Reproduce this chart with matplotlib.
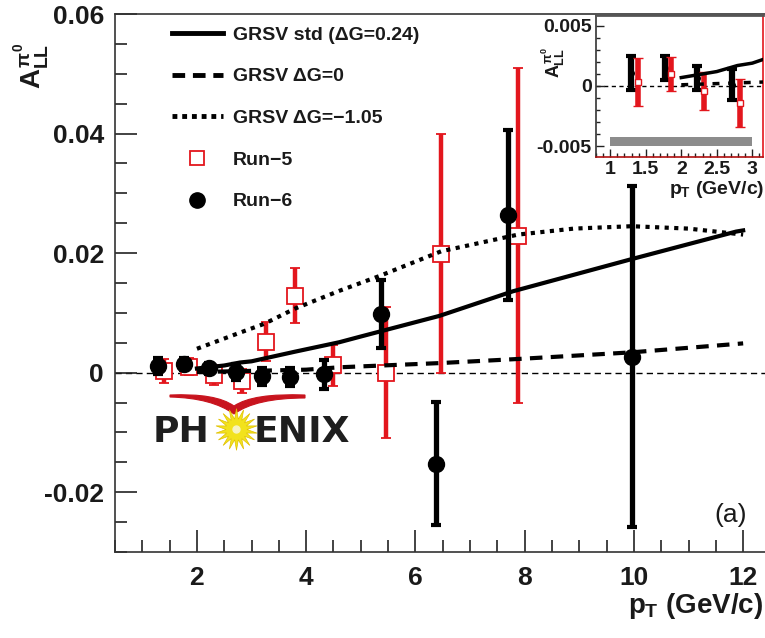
import numpy as np
import matplotlib
matplotlib.use("Agg")
import matplotlib.pyplot as plt
from matplotlib.lines import Line2D
from matplotlib.path import Path
from matplotlib.patches import PathPatch
from matplotlib.ticker import FixedLocator, MultipleLocator, FixedFormatter

plt.rcParams['font.family'] = ['Liberation Sans', 'DejaVu Sans']
plt.rcParams['font.weight'] = 'bold'
plt.rcParams['mathtext.fontset'] = 'custom'
plt.rcParams['mathtext.rm'] = 'Liberation Sans:bold'
plt.rcParams['mathtext.it'] = 'Liberation Sans:bold'
plt.rcParams['mathtext.bf'] = 'Liberation Sans:bold'
plt.rcParams['mathtext.sf'] = 'Liberation Sans:bold'

# ---------------- data ----------------
run6_pt = [1.29, 1.77, 2.22, 2.72, 3.20, 3.70, 4.33, 5.37, 6.37, 7.69, 9.97]
run6_all = [0.0011, 0.0015, 0.0007, 0.0001, -0.0006, -0.0007, -0.0003, 0.0098, -0.0152, 0.0264, 0.0027]
run6_err = [0.0014, 0.0010, 0.0010, 0.0013, 0.0014, 0.0015, 0.0025, 0.0057, 0.0103, 0.0142, 0.0286]

run5_pt = [1.39, 1.86, 2.32, 2.83, 3.26, 3.79, 4.50, 5.46, 6.47, 7.88]
run5_all = [0.0003, 0.0010, -0.0004, -0.0014, 0.0052, 0.0129, 0.0012, 0.0000, 0.0199, 0.0229]
run5_err = [0.0020, 0.0014, 0.0016, 0.0020, 0.0032, 0.0046, 0.0035, 0.0110, 0.0200, 0.0280]

std_pt = [2.0, 2.5, 2.79, 3.0, 3.79, 4.61, 4.98, 6.44, 7.78, 9.96, 11.87, 12.0]
std_all = [0.0007, 0.0012, 0.0017, 0.0019, 0.0035, 0.0051, 0.0060, 0.0095, 0.0136, 0.0190, 0.0236, 0.0238]

zero_pt = [2.0, 3.0, 4.0, 4.61, 6.44, 7.9, 9.96, 11.87, 12.0]
zero_all = [0.0001, 0.0003, 0.0005, 0.0009, 0.0016, 0.0023, 0.0034, 0.0048, 0.0049]

neg_pt = [2.0, 2.79, 3.24, 3.79, 4.61, 5.35, 6.47, 7.88, 8.9, 9.96, 11.0, 12.0]
neg_all = [0.0040, 0.0067, 0.0082, 0.0107, 0.0137, 0.0162, 0.0203, 0.0231, 0.0241, 0.0245, 0.0241, 0.0231]

syst_pt = [1.0, 3.0]
syst_lo = -0.0050
syst_hi = -0.0042

labels = ["GRSV std (\u0394G=0.24)", "GRSV \u0394G=0", "GRSV \u0394G=\u22121.05", "Run\u22125", "Run\u22126"]

x_ticks = [2, 4, 6, 8, 10, 12]
x_ticklabels = ["2", "4", "6", "8", "10", "12"]
y_ticks = [-0.02, 0.0, 0.02, 0.04, 0.06]
y_ticklabels = ["-0.02", "0", "0.02", "0.04", "0.06"]
in_x_ticks = [1, 1.5, 2, 2.5, 3]
in_x_ticklabels = ["1", "1.5", "2", "2.5", "3"]
in_y_ticks = [-0.005, 0.0, 0.005]
in_y_ticklabels = ["-0.005", "0", "0.005"]

RED = '#e3161d'
W, H = 765, 638


def fx(px):
    return px / W


def fy(py):
    return 1 - py / H


fig = plt.figure(figsize=(7.65, 6.38), dpi=100)

# ---------------- main axes ----------------
ax = fig.add_axes([fx(115), fy(552), fx(765) - fx(115), fy(14) - fy(552)])
ax.set_xlim(0.5, 12.4)
ax.set_ylim(-0.03, 0.06)

ax.axhline(0, color='black', lw=1.0, ls=(0, (4.5, 3)), zorder=1)

ax.errorbar(run5_pt, run5_all, yerr=run5_err, fmt='s', ms=11, mfc='white', mec=RED,
            mew=1.3, ecolor=RED, elinewidth=3.2, capsize=3.5, capthick=3, zorder=3)
ax.errorbar(run6_pt, run6_all, yerr=run6_err, fmt='o', ms=11.5, color='black',
            elinewidth=3.8, capsize=3.5, capthick=3, zorder=4)

ax.plot(std_pt, std_all, color='black', lw=3, zorder=5)
ax.plot(zero_pt, zero_all, color='black', lw=3, ls=(0, (3, 2)), zorder=5)
ax.plot(neg_pt, neg_all, color='black', lw=3, ls=(0, (1, 1.3)), zorder=5)

ax.xaxis.set_major_locator(FixedLocator(x_ticks))
ax.xaxis.set_major_formatter(FixedFormatter(x_ticklabels))
ax.xaxis.set_minor_locator(MultipleLocator(0.5))
ax.yaxis.set_major_locator(FixedLocator(y_ticks))
ax.yaxis.set_major_formatter(FixedFormatter(y_ticklabels))
ax.yaxis.set_minor_locator(MultipleLocator(0.005))
ax.tick_params(which='both', direction='in', width=1.2, colors='#222222')
ax.tick_params(which='major', length=16)
ax.tick_params(which='minor', length=8.5)
ax.tick_params(axis='x', which='major', pad=10, labelsize=19)
ax.tick_params(axis='y', which='major', pad=8, labelsize=19)
for lab in ax.get_xticklabels() + ax.get_yticklabels():
    lab.set_fontweight('bold')
    lab.set_color('#1a1a1a')
ax.spines['right'].set_visible(False)
for s in ['left', 'bottom', 'top']:
    ax.spines[s].set_linewidth(1.2)
    ax.spines[s].set_color('#333333')

handles = [
    Line2D([], [], color='black', lw=3.5),
    Line2D([], [], color='black', lw=3.5, ls=(0, (2.6, 1.6))),
    Line2D([], [], color='black', lw=3.5, ls=(0, (1, 1))),
    Line2D([], [], ls='none', marker='s', ms=10, mfc='white', mec=RED, mew=1.3),
    Line2D([], [], ls='none', marker='o', ms=11, color='black'),
]
leg = ax.legend(handles, labels, loc='upper left', bbox_to_anchor=(fx(172), fy(26)),
                bbox_transform=fig.transFigure, frameon=False,
                handlelength=2.6, handletextpad=0.55, labelspacing=1.24,
                borderpad=0, borderaxespad=0, prop={'weight': 'bold', 'size': 14})
for t in leg.get_texts():
    t.set_color('#1a1a1a')

# axis titles
fig.text(fx(763), fy(606), r"$p_T$ (GeV/c)", ha='right', va='center', fontsize=20,
         fontweight='bold', color='#1a1a1a')
fig.text(fx(32), fy(66), r"$A_{LL}^{\pi^0}$", rotation=90, ha='center', va='center',
         fontsize=20, color='#1a1a1a')
fig.text(fx(731), fy(515), "(a)", ha='center', va='center', fontsize=19,
         fontweight='normal', color='#1a1a1a')

# ---------------- PHENIX logo (decoration) ----------------
logo_font = dict(family='DejaVu Sans', fontsize=26, fontweight='bold', color='#1e1e1e')
fig.text(fx(153), fy(442), "PH", ha='left', va='baseline', **logo_font)
fig.text(fx(254), fy(442), "ENIX", ha='left', va='baseline', **logo_font)
star = Line2D([fx(236)], [fy(429)], marker=(18, 1, 0), markersize=30,
              color='#f2e21c', mec='#e0c000', mew=0.5, transform=fig.transFigure)
fig.add_artist(star)
dot = Line2D([fx(236)], [fy(429)], marker='o', markersize=5, color='#f7f3c0',
             transform=fig.transFigure)
fig.add_artist(dot)
verts = [(fx(170), fy(395)), (fx(216), fy(393)), (fx(234), fy(406)),
         (fx(253), fy(393)), (fx(305), fy(395)),
         (fx(305), fy(398)),
         (fx(256), fy(398)), (fx(234), fy(414)),
         (fx(212), fy(398)), (fx(170), fy(397)),
         (fx(170), fy(395))]
codes = [Path.MOVETO, Path.CURVE3, Path.CURVE3, Path.CURVE3, Path.CURVE3,
         Path.LINETO, Path.CURVE3, Path.CURVE3, Path.CURVE3, Path.CURVE3,
         Path.CLOSEPOLY]
swoop = PathPatch(Path(verts, codes), facecolor='#c8141e', edgecolor='#c8141e', lw=0.8,
                  transform=fig.transFigure)
fig.add_artist(swoop)

# ---------------- inset ----------------
axi = fig.add_axes([fx(596), fy(157), fx(763) - fx(596), fy(15) - fy(157)])
axi.set_xlim(0.8, 3.15)
axi.set_ylim(-0.0059, 0.0059)
axi.axhline(0, color='black', lw=1.0, ls=(0, (3, 2.5)), zorder=1)
axi.fill_between(syst_pt, syst_lo, syst_hi, color='#8c8c8c', lw=0, zorder=2)
n_in = 4
axi.errorbar(run6_pt[:n_in], run6_all[:n_in], yerr=run6_err[:n_in], fmt='o', ms=4,
             color='black', elinewidth=4.5, capsize=3.5, capthick=3, zorder=3)
axi.errorbar(run5_pt[:n_in], run5_all[:n_in], yerr=run5_err[:n_in], fmt='s', ms=5,
             mfc='white', mec=RED, mew=1.0, ecolor=RED, elinewidth=4, capsize=3.5,
             capthick=3, zorder=4)
axi.plot(std_pt, std_all, color='black', lw=2.5, zorder=5)
axi.plot(zero_pt, zero_all, color='black', lw=2.5, ls=(0, (2, 2.5)), zorder=5)

axi.xaxis.set_major_locator(FixedLocator(in_x_ticks))
axi.xaxis.set_major_formatter(FixedFormatter(in_x_ticklabels))
axi.xaxis.set_minor_locator(MultipleLocator(0.1))
axi.yaxis.set_major_locator(FixedLocator(in_y_ticks))
axi.yaxis.set_major_formatter(FixedFormatter(in_y_ticklabels))
axi.yaxis.set_minor_locator(MultipleLocator(0.001))
axi.tick_params(which='both', direction='in', width=1.0, colors='#222222', labelsize=14)
axi.tick_params(which='major', length=6, pad=3)
axi.tick_params(which='minor', length=3)
for lab in axi.get_xticklabels() + axi.get_yticklabels():
    lab.set_fontweight('bold')
    lab.set_color('#1a1a1a')
axi.spines['top'].set_color('#555555')
axi.spines['top'].set_linewidth(2.0)
axi.spines['left'].set_color('#333333')
axi.spines['right'].set_color(RED)
axi.spines['bottom'].set_color('#b01010')
for s in ['left', 'right', 'bottom']:
    axi.spines[s].set_linewidth(1.2)
fig.text(fx(764), fy(190), r"$p_T$ (GeV/c)", ha='right', va='center', fontsize=14,
         fontweight='bold', color='#1a1a1a')
fig.text(fx(553), fy(62), r"$A_{LL}^{\pi^0}$", rotation=90, ha='center', va='center',
         fontsize=13, color='#1a1a1a')

fig.savefig("out.png", dpi=100, facecolor='white')
